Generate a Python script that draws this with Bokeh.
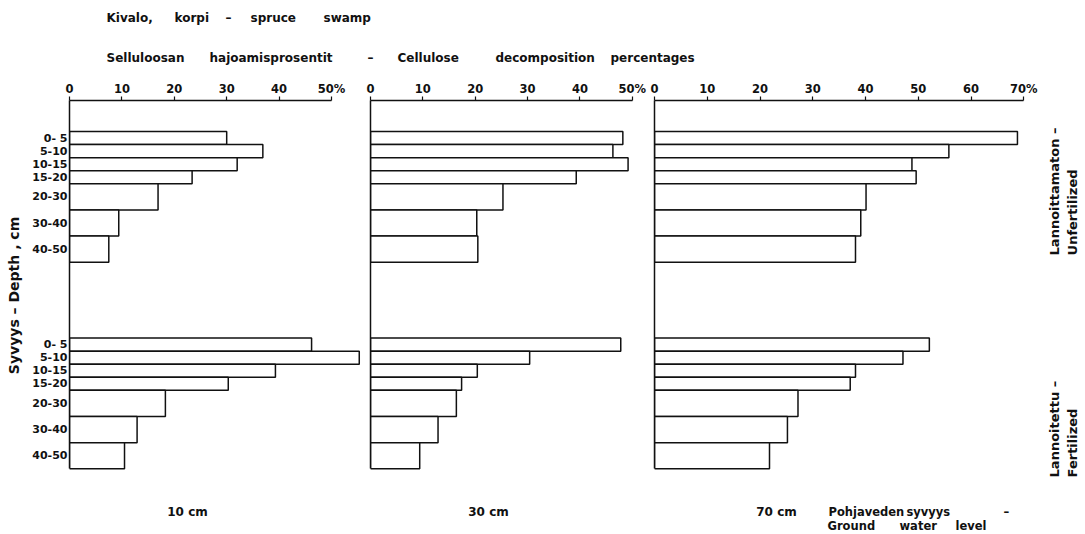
from bokeh.plotting import figure
from bokeh.models import Range1d, FixedTicker
from bokeh.layouts import column, row
from bokeh.embed import file_html
from bokeh.resources import INLINE
from bokeh.core.properties import value
import math

# ---------------- data ----------------
depth_labels = ["0- 5", "5-10", "10-15", "15-20", "20-30", "30-40", "40-50"]
depth_top = [0, 5, 10, 15, 20, 30, 40]
depth_bottom = [5, 10, 15, 20, 30, 40, 50]
water_levels = ["10 cm", "30 cm", "70 cm"]
axis_max = [50, 50, 70]

# Unfertilized (Lannoittamaton) / Fertilized (Lannoitettu), decomposition %
unfert_10 = [30.0, 36.9, 32.0, 23.4, 16.9, 9.4, 7.5]
fert_10 = [46.2, 55.3, 39.3, 30.3, 18.3, 12.9, 10.5]
unfert_30 = [48.2, 46.3, 49.2, 39.3, 25.3, 20.3, 20.5]
fert_30 = [47.8, 30.4, 20.4, 17.4, 16.4, 12.9, 9.4]
unfert_70 = [68.8, 55.8, 48.8, 49.6, 40.1, 39.1, 38.1]
fert_70 = [52.1, 47.1, 38.1, 37.1, 27.2, 25.2, 21.8]

# ---------------- layout constants ----------------
GROUP_OFFSET = 79.0       # vertical offset of the fertilized block (depth units)
Y_TOP = -11.85
Y_BOTTOM = 137.3
FONT = value("DejaVu Sans")
INK = "#111111"

TOP_H = 70
ROW_H = 420
BOT_H = 44
TOTAL_W = 1085


def style_common(p):
    p.outline_line_color = None
    p.xgrid.visible = False
    p.ygrid.visible = False
    p.background_fill_color = "white"
    p.border_fill_color = "white"


def make_panel(unf, fert, amax, x_end, width, left_border, first=False):
    p = figure(width=width, height=ROW_H,
               x_range=Range1d(0, x_end), y_range=Range1d(Y_BOTTOM, Y_TOP),
               x_axis_location="above", output_backend="svg", toolbar_location=None,
               min_border_left=left_border, min_border_right=0,
               min_border_top=30, min_border_bottom=0)
    style_common(p)

    xa = p.xaxis[0]
    xa.ticker = FixedTicker(ticks=list(range(0, amax + 1, 10)))
    xa.bounds = (0, amax)
    xa.major_label_overrides = {amax: f"{amax}%"}
    xa.minor_tick_line_color = None
    xa.major_tick_in = 0
    xa.major_tick_out = 4
    xa.major_label_standoff = 1
    xa.axis_line_width = 1.5
    xa.axis_line_color = INK
    xa.major_tick_line_color = INK
    xa.major_tick_line_width = 1.2
    xa.major_label_text_font = "DejaVu Sans"
    xa.major_label_text_font_style = "bold"
    xa.major_label_text_font_size = "11.5px"
    xa.major_label_text_color = INK

    ya = p.yaxis[0]
    ya.bounds = (Y_TOP, depth_bottom[-1] + GROUP_OFFSET)
    ya.axis_line_width = 1.5
    ya.axis_line_color = INK
    ya.minor_tick_line_color = None
    ya.major_tick_in = 0
    ya.major_tick_out = 0
    ya.major_tick_line_color = None
    if first:
        centers = [(a + b) / 2 for a, b in zip(depth_top, depth_bottom)]
        ticks = centers + [c + GROUP_OFFSET for c in centers]
        ya.ticker = FixedTicker(ticks=ticks)
        ya.major_label_overrides = {t: lab for t, lab in zip(ticks, depth_labels + depth_labels)}
        ya.major_label_standoff = 2
        ya.major_label_text_font = "DejaVu Sans"
        ya.major_label_text_font_style = "bold"
        ya.major_label_text_font_size = "11px"
        ya.major_label_text_color = INK
        ya.axis_label = "Syvyys – Depth , cm"
        ya.axis_label_text_font = "DejaVu Sans"
        ya.axis_label_text_font_style = "bold"
        ya.axis_label_text_font_size = "14px"
        ya.axis_label_text_color = INK
        ya.axis_label_standoff = 7
    else:
        ya.ticker = FixedTicker(ticks=[])
        ya.major_label_standoff = 0

    for vals, off in ((unf, 0.0), (fert, GROUP_OFFSET)):
        p.quad(left=[0] * len(vals), right=vals,
               top=[d + off for d in depth_top],
               bottom=[d + off for d in depth_bottom],
               fill_color="white", line_color=INK, line_width=1.5)
    return p


p1 = make_panel(unfert_10, fert_10, axis_max[0], 56.3, 364, 69, first=True)
p2 = make_panel(unfert_30, fert_30, axis_max[1], 53.1, 284, 6)
p3 = make_panel(unfert_70, fert_70, axis_max[2], 81.7, TOTAL_W - 364 - 284, 6)

# right-hand group labels (rotated), placed inside panel 3's frame
def rot_text(p, x, y, txt):
    p.text(x=[x], y=[y], text=[txt], angle=math.pi / 2, text_align="left",
           text_baseline="middle", text_font=FONT, text_font_style="bold",
           text_font_size="13px", text_color=INK)

rot_text(p3, 75.8, 47.4, "Lannoittamaton –")
rot_text(p3, 79.2, 47.4, "Unfertilized")
rot_text(p3, 75.8, 132.3, "Lannoitettu –")
rot_text(p3, 79.2, 132.3, "Fertilized")


def strip(height):
    s = figure(width=TOTAL_W, height=height, x_range=Range1d(0, TOTAL_W), y_range=Range1d(height, 0),
               x_axis_type=None, y_axis_type=None, output_backend="svg",
               toolbar_location=None, min_border=0)
    style_common(s)
    return s


def words(s, xs, y, ws, size="12px", align="left"):
    s.text(x=xs, y=[y] * len(xs), text=ws, text_align=align, text_baseline="middle",
           text_font=FONT, text_font_style="bold", text_font_size=size, text_color=INK)

# top strip: titles
top = strip(TOP_H)
words(top, [106, 174, 225, 250, 323], 17, ["Kivalo,", "korpi", "–", "spruce", "swamp"])
words(top, [106, 209, 367, 397, 495, 610], 57,
      ["Selluloosan", "hajoamisprosentit", "–", "Cellulose", "decomposition", "percentages"])

# bottom strip: ground water levels
bottom = strip(BOT_H)
words(bottom, [187, 488, 776], 21, water_levels, align="center")
words(bottom, [828, 906, 1003], 21, ["Pohjaveden", "syvyys", "–"], size="11.5px")
words(bottom, [827, 899, 955], 35, ["Ground", "water", "level"], size="11.5px")

layout = column(top, row(p1, p2, p3), bottom)

open("out.html", "w").write(file_html(layout, INLINE))
